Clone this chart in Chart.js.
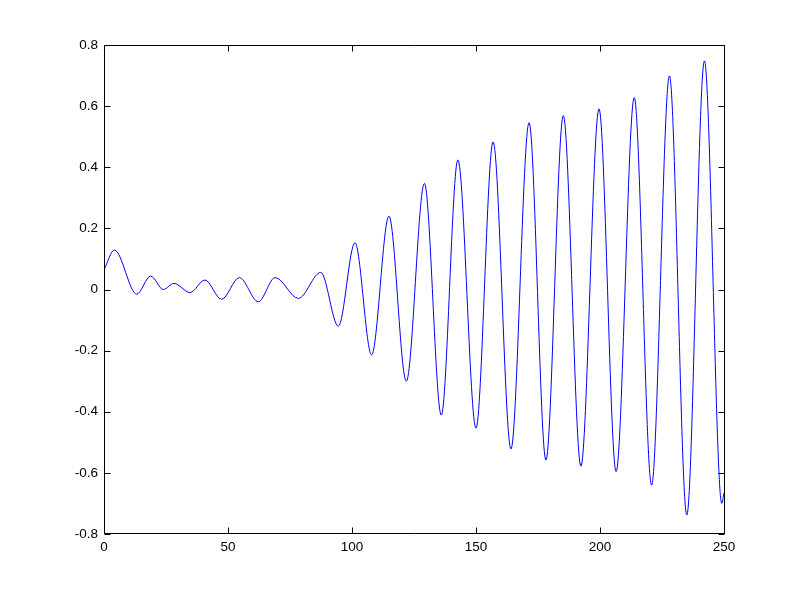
<!DOCTYPE html>
<html>
<head>
<meta charset="utf-8">
<script src="https://cdn.jsdelivr.net/npm/chart.js@4/dist/chart.umd.min.js"></script>
<style>
  html, body { margin: 0; padding: 0; background: #fff; }
  canvas { display: block; }
</style>
</head>
<body>
<canvas id="chart1" width="800" height="600"></canvas>
<script>
// peaks and troughs
const xs = [0, 4.2, 13.2, 18.8, 23.9, 28.2, 34.7, 40.7, 47.4, 54.6, 62.2, 69, 78.4, 87.4,
            94.5, 101.2, 107.9, 114.9, 121.9, 129.2, 136, 142.7, 150, 156.9, 164.1, 171.4,
            178.2, 185.2, 192.3, 199.6, 206.5, 213.8, 220.8, 228, 235, 242.1, 249.1, 250];
const ys = [0.065, 0.129, -0.015, 0.044, 0.0, 0.02, -0.01, 0.031, -0.032, 0.039, -0.04, 0.039, -0.029, 0.056,
            -0.12, 0.153, -0.214, 0.24, -0.30, 0.347, -0.411, 0.424, -0.454, 0.483, -0.522, 0.546,
            -0.558, 0.569, -0.578, 0.591, -0.596, 0.628, -0.640, 0.699, -0.738, 0.748, -0.70, -0.665];

const xTicks = [0, 50, 100, 150, 200, 250];
const yTicks = [-0.8, -0.6, -0.4, -0.2, 0, 0.2, 0.4, 0.6, 0.8];

const points = xs.map((x, i) => ({ x: x, y: ys[i] }));

const font = { family: "'Liberation Sans', Arial, Helvetica, sans-serif", size: 13.5 };

// matlab style box with inward ticks on all sides
const frame = {
    id: 'frame',
    afterDraw(chart) {
        const { ctx, chartArea: a, scales } = chart;
        const L = a.left + 0.5, R = a.right + 0.5, T = a.top + 0.5, B = a.bottom - 0.5;
        const len = 6;
        ctx.save();
        ctx.strokeStyle = '#000';
        ctx.lineWidth = 1;
        ctx.beginPath();
        ctx.rect(L, T, R - L, B - T);
        xTicks.forEach(v => {
            const px = Math.round(scales.x.getPixelForValue(v)) + 0.5;
            ctx.moveTo(px, B); ctx.lineTo(px, B - len);
            ctx.moveTo(px, T); ctx.lineTo(px, T + len);
        });
        yTicks.forEach(v => {
            const py = Math.round(scales.y.getPixelForValue(v)) + 0.5;
            ctx.moveTo(L, py); ctx.lineTo(L + len, py);
            ctx.moveTo(R, py); ctx.lineTo(R - len, py);
        });
        ctx.stroke();
        ctx.restore();
    }
};

new Chart(document.getElementById('chart1').getContext('2d'), {
    type: 'line',
    data: {
        datasets: [{
            data: points,
            borderColor: 'rgb(0, 0, 255)',
            borderWidth: 1,
            pointRadius: 0,
            fill: false,
            cubicInterpolationMode: 'monotone'
        }]
    },
    options: {
        responsive: false,
        animation: false,
        devicePixelRatio: 1,
        layout: { padding: { left: 0, top: 45, right: 76, bottom: 0 } },
        plugins: { legend: { display: false }, tooltip: { enabled: false } },
        scales: {
            x: {
                type: 'linear',
                min: 0,
                max: 250,
                grid: { display: false, drawTicks: false },
                border: { display: false },
                afterBuildTicks: s => { s.ticks = xTicks.map(v => ({ value: v })); },
                afterFit: s => { s.height = 66; },
                ticks: { color: '#000', font: font, padding: 5, maxRotation: 0,
                         callback: v => String(v) }
            },
            y: {
                type: 'linear',
                min: -0.8,
                max: 0.8,
                grid: { display: false, drawTicks: false },
                border: { display: false },
                afterBuildTicks: s => { s.ticks = yTicks.map(v => ({ value: v })); },
                afterFit: s => { s.width = 104; },
                ticks: { color: '#000', font: font, padding: 6,
                         callback: v => String(Math.round(v * 10) / 10) }
            }
        }
    },
    plugins: [frame]
});
</script>
</body>
</html>
